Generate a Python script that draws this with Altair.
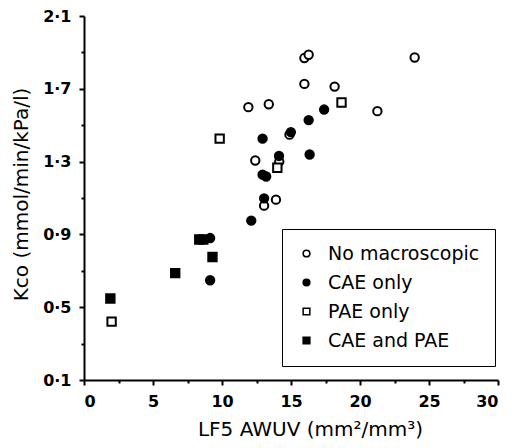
import altair as alt
import pandas as pd

groups = ["No macroscopic", "CAE only", "PAE only", "CAE and PAE"]

no_macro_x = [15.97, 16.28, 23.96, 15.97, 18.16, 11.91, 13.39, 21.26, 14.89, 12.41, 14.15, 13.05, 13.91]
no_macro_y = [1.869, 1.887, 1.872, 1.727, 1.712, 1.599, 1.615, 1.577, 1.448, 1.306, 1.300, 1.058, 1.091]

cae_x = [17.40, 16.28, 14.99, 12.94, 16.35, 14.13, 12.94, 13.20, 13.05, 12.12, 9.14, 9.14]
cae_y = [1.586, 1.528, 1.462, 1.426, 1.339, 1.331, 1.228, 1.218, 1.098, 0.976, 0.880, 0.648]

pae_x = [18.66, 9.83, 14.01, 2.00]
pae_y = [1.625, 1.426, 1.266, 0.421]

both_x = [1.91, 6.61, 8.35, 8.65, 9.31]
both_y = [0.548, 0.687, 0.872, 0.872, 0.776]

x_ticks = [0, 2.5, 5, 7.5, 10, 12.5, 15, 17.5, 20, 22.5, 25, 27.5, 30]
y_ticks = [0.1, 0.3, 0.5, 0.7, 0.9, 1.1, 1.3, 1.5, 1.7, 1.9, 2.1]

rows = []
for g, xs, ys in [(groups[0], no_macro_x, no_macro_y), (groups[1], cae_x, cae_y),
                  (groups[2], pae_x, pae_y), (groups[3], both_x, both_y)]:
    for a, b in zip(xs, ys):
        rows.append({"x": a, "y": b, "group": g})
df = pd.DataFrame(rows)
df["ord"] = range(len(df))

FONT = "DejaVu Sans"
x_major = "datum.value % 5 == 0"
y_major = "abs((datum.value - 0.1) / 0.4 - round((datum.value - 0.1) / 0.4)) < 0.01"

legend = alt.Legend(
    title=None, orient="none", legendX=198, legendY=213, padding=15,
    strokeColor="black", fillColor="white", labelFontSize=19, labelFont=FONT,
    labelColor="black", symbolSize=45, symbolStrokeWidth=1.5, symbolStrokeColor="black",
    rowPadding=9, labelOffset=12, labelLimit=300,
)

chart = alt.Chart(df).mark_point(
    filled=True, size=70, strokeWidth=2, opacity=1
).encode(
    x=alt.X("x:Q", scale=alt.Scale(domain=[0, 30], nice=False, zero=False),
            axis=alt.Axis(
                values=x_ticks, title="LF5 AWUV (mm²/mm³)",
                labelExpr="datum.value % 5 == 0 ? datum.value : ''",
                tickSize={"condition": {"test": x_major, "value": 5}, "value": 3},
                labelPadding=8, labelFontSize=16, labelFontWeight="bold",
                titleFontSize=20, titleFontWeight="normal",
                titleX=226, titleY=55, titleBaseline="alphabetic", titleAlign="center",
            )),
    y=alt.Y("y:Q", scale=alt.Scale(domain=[0.1, 2.1], nice=False, zero=False),
            axis=alt.Axis(
                values=y_ticks, title="Kco (mmol/min/kPa/l)",
                labelExpr="(" + y_major + ") ? replace(format(datum.value, '.1f'), '.', '·') : ''",
                tickSize={"condition": {"test": y_major, "value": 5}, "value": 3},
                labelPadding=8, labelFontSize=16, labelFontWeight="bold",
                titleFontSize=20, titleFontWeight="normal", titleAngle=-90,
                titleX=-57, titleY=178, titleBaseline="alphabetic", titleAlign="center",
            )),
    shape=alt.Shape("group:N", scale=alt.Scale(domain=groups, range=["circle", "circle", "square", "square"]),
                    legend=legend),
    fill=alt.Fill("group:N", scale=alt.Scale(domain=groups, range=["white", "black", "white", "black"]),
                  legend=legend),
    stroke=alt.Stroke("group:N", scale=alt.Scale(domain=groups, range=["black", "black", "black", "black"]),
                      legend=legend),
    order=alt.Order("ord:Q"),
).properties(
    width=414, height=364,
    autosize=alt.AutoSizeParams(type="none"),
    padding={"left": 76, "top": 8, "right": 8, "bottom": 60},
).configure_view(stroke=None).configure_axis(
    domainColor="black", domainWidth=2, tickColor="black", tickWidth=2, grid=False,
    labelFont=FONT, titleFont=FONT, labelColor="black", titleColor="black",
    labelOverlap=False,
)

chart.save("out.html", embed_options={"renderer": "svg", "actions": False})
